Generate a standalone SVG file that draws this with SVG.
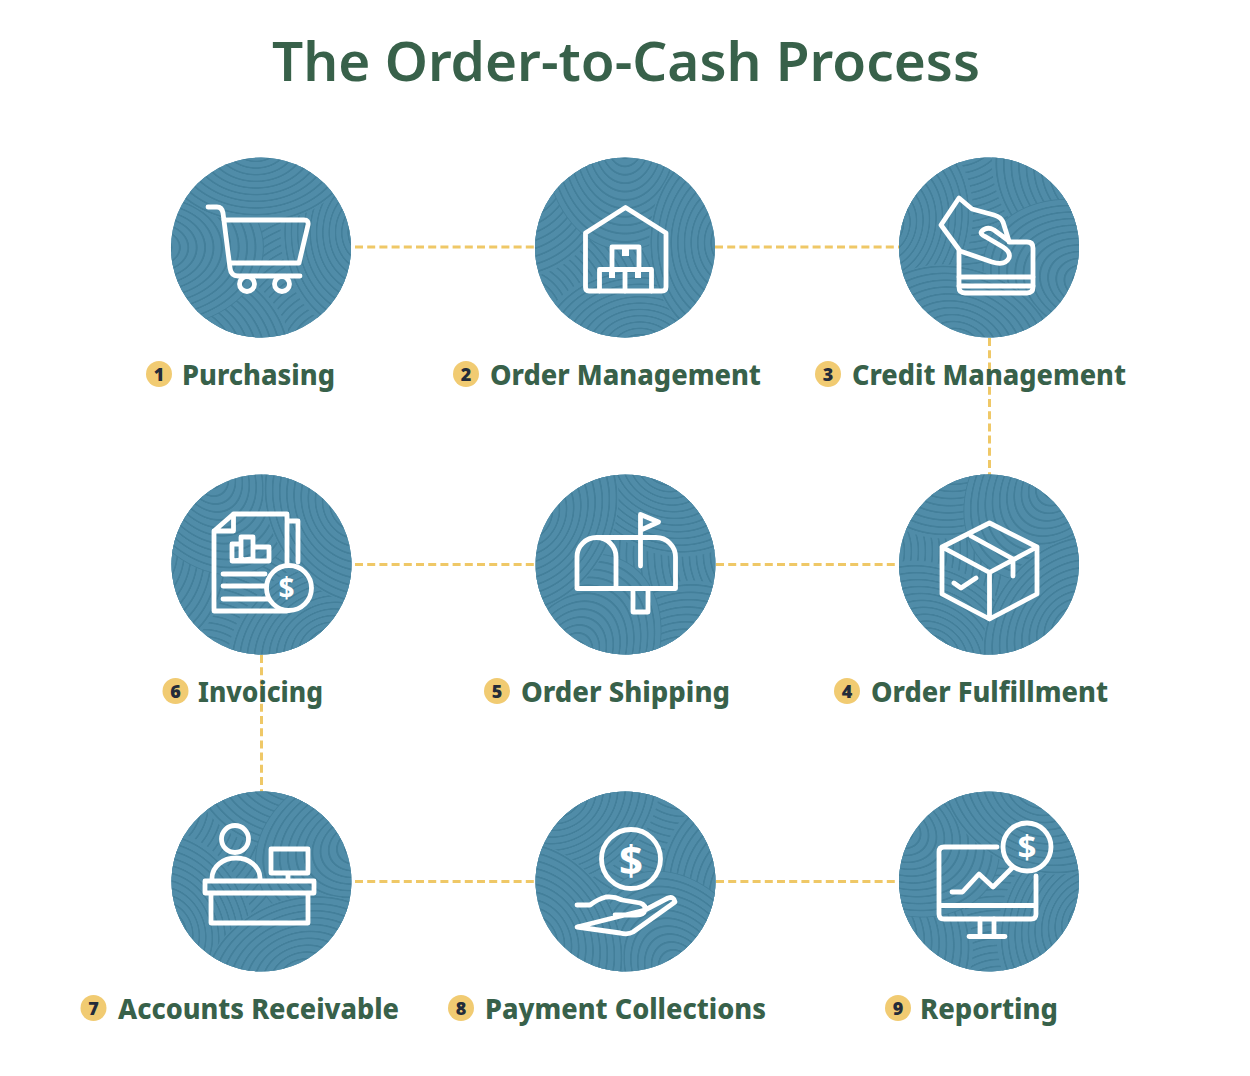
<svg xmlns="http://www.w3.org/2000/svg" xmlns:xlink="http://www.w3.org/1999/xlink" width="1250" height="1076" viewBox="0 0 1250 1076">
<style>
.title{font-family:"Noto Sans","Open Sans",sans-serif;font-weight:600;font-size:54px;fill:#38614a;text-anchor:middle}
.lbl{font-family:"Noto Sans","Open Sans",sans-serif;font-weight:800;font-size:29px;fill:#38614a}
.num{font-family:"Noto Sans","Open Sans",sans-serif;font-weight:900;font-size:18px;fill:#232c3a;text-anchor:middle}
.badge{fill:#f1cb72}
.ic{fill:none;stroke:#fff;stroke-width:4.8;stroke-linecap:round;stroke-linejoin:round}
.usd{font-family:"Noto Sans","Open Sans",sans-serif;font-weight:700;fill:#fff;text-anchor:middle}
.dash{fill:none;stroke:#efc867;stroke-width:3;stroke-dasharray:8 4.2}
.r{fill:url(#ring)}
</style>
<defs>
<radialGradient id="ring" gradientUnits="userSpaceOnUse" cx="0" cy="0" r="7" spreadMethod="repeat">
<stop offset="0" stop-color="#508ca8"/><stop offset=".66" stop-color="#508ca8"/><stop offset=".78" stop-color="#437f9a"/><stop offset=".92" stop-color="#437f9a"/><stop offset="1" stop-color="#508ca8"/>
</radialGradient>
<clipPath id="cc"><circle r="90"/></clipPath>
<g id="bg">
<circle r="90" fill="#508ca8"/>
<g clip-path="url(#cc)">
<circle class="r" r="150" transform="translate(75,110)"/>
<circle class="r" r="115" transform="translate(-95,110) scale(1.1,.9)"/>
<circle class="r" r="90" transform="translate(-105,0) scale(1.2,.9)"/>
<circle class="r" r="95" transform="translate(105,-15) scale(.9,1.1)"/>
<circle class="r" r="85" transform="translate(-5,-105) scale(1.2,.95)"/>
</g>
</g>
</defs>
<rect width="1250" height="1076" fill="#fff"/>
<g id="connectors">
<path class="dash" d="M355 247H535M715 247H899"/>
<path class="dash" d="M355 564.5H535M716 564.5H899"/>
<path class="dash" d="M355 881.5H535M716 881.5H899"/>
<path class="dash" d="M989.5 338V475"/>
<path class="dash" d="M261.5 655V792"/>
</g>
<text class="title" x="626" y="81" textLength="708" lengthAdjust="spacingAndGlyphs">The Order-to-Cash Process</text>

<g id="n1">
<use xlink:href="#bg" href="#bg" transform="translate(261,247.5) rotate(0)"/>
<path class="ic" d="M208 207H217Q222 207 223 213L230 268Q231 276 238 276H300"/>
<path class="ic" d="M224 220H304Q309 220 308 225L299 263H230"/>
<circle class="ic" cx="247" cy="284" r="7.5"/><circle class="ic" cx="282" cy="284" r="7.5"/>
<circle class="badge" cx="159" cy="374" r="13"/><text class="num" x="159" y="380.500">1</text>
<text class="lbl" x="182" y="385" textLength="153" lengthAdjust="spacingAndGlyphs">Purchasing</text>
</g>
<g id="n2">
<use xlink:href="#bg" href="#bg" transform="translate(625,247.500) rotate(90)"/>
<path class="ic" d="M585.500 233L625.500 207.500L666 233V287Q666 291 662 291H589Q585.500 291 585.500 287Z"/>
<path class="ic" d="M599.500 291V269.500H651.500V291M625 269.500V291M612 269.500V247H639V269.500"/>
<path d="M622 247H629V256H622ZM609 269.500H615V278H609ZM635 269.500H641V278H635Z" fill="#fff"/>
<circle class="badge" cx="466" cy="374" r="13"/><text class="num" x="466" y="380.500">2</text>
<text class="lbl" x="490" y="385" textLength="271" lengthAdjust="spacingAndGlyphs">Order Management</text>
</g>
<g id="n3">
<use xlink:href="#bg" href="#bg" transform="translate(989,247.500) rotate(200)"/>
<path class="ic" d="M1009 242H1027Q1033 242 1033 248V287Q1033 293 1027 293H965Q959 293 959 287V251"/>
<path class="ic" d="M959 277H1033M959 286H1033"/>
<path class="ic" d="M959 198L941 225L960 251L992 262Q1005 266 1009 258Q1011 252 1003 247L986 237Q979 234 982 231Q987 226 994 230L1009 241L1003 222Q1001 217 994 215L972 209Z"/>
<circle class="badge" cx="828" cy="374" r="13"/><text class="num" x="828" y="380.500">3</text>
<text class="lbl" x="852" y="385" textLength="274" lengthAdjust="spacingAndGlyphs">Credit Management</text>
</g>
<g id="n4">
<use xlink:href="#bg" href="#bg" transform="translate(989,564.500) rotate(130)"/>
<path class="ic" d="M989.500 523L1037 547V594L989.500 619L942 594V547ZM942 547L989.500 572.500L1037 547M989.500 572.500V619M971 536L1013 559V576M954 583L961 588L976 578"/>
<circle class="badge" cx="847" cy="691" r="13"/><text class="num" x="847" y="697.500">4</text>
<text class="lbl" x="871" y="702" textLength="237" lengthAdjust="spacingAndGlyphs">Order Fulfillment</text>
</g>
<g id="n5">
<use xlink:href="#bg" href="#bg" transform="translate(625.500,564.500) rotate(300)"/>
<path class="ic" d="M577 588.500V557A19.500 19.500 0 0 1 616 557V588.500M596.500 537.500H656A19.500 19.500 0 0 1 675.500 557V588.500H577"/>
<path class="ic" d="M633 589V612H648V589M640.500 566V514.500L658.500 522L641 530"/>
<circle class="badge" cx="497" cy="691" r="13"/><text class="num" x="497" y="697.500">5</text>
<text class="lbl" x="521" y="702" textLength="209" lengthAdjust="spacingAndGlyphs">Order Shipping</text>
</g>
<g id="n6">
<use xlink:href="#bg" href="#bg" transform="translate(261.500,564.500) rotate(60)"/>
<path class="ic" d="M287 565V514H233.500L214 531V611H287M233.500 514V531H214M288 521H298V562"/>
<path class="ic" d="M232 559V544H241V559M241 559V537H253V559M253 559V547H269V561H232Z"/>
<path class="ic" d="M223 574H265M223 586H265M223 599H268"/>
<circle class="ic" cx="289" cy="588" r="22.500"/>
<text class="usd" x="286.500" y="598" font-size="28">$</text>
<circle class="badge" cx="175.500" cy="691" r="13"/><text class="num" x="175.500" y="697.500">6</text>
<text class="lbl" x="198" y="702" textLength="125" lengthAdjust="spacingAndGlyphs">Invoicing</text>
</g>
<g id="n7">
<use xlink:href="#bg" href="#bg" transform="translate(261.500,881.500) rotate(160)"/>
<circle class="ic" cx="235" cy="839" r="13.500"/>
<path class="ic" d="M212 880V878A24 20 0 0 1 260 878V880"/>
<path class="ic" d="M205 881H314V893H205ZM211 893V923H308V893"/>
<path class="ic" d="M271 849H308V873H271ZM288 873V881"/>
<circle class="badge" cx="93.500" cy="1008" r="13"/><text class="num" x="93.500" y="1014.500">7</text>
<text class="lbl" x="118" y="1019" textLength="281" lengthAdjust="spacingAndGlyphs">Accounts Receivable</text>
</g>
<g id="n8">
<use xlink:href="#bg" href="#bg" transform="translate(625.500,881.500) rotate(240)"/>
<circle class="ic" cx="631" cy="859" r="29.500"/>
<text class="usd" x="631" y="875" font-size="42">$</text>
<path class="ic" d="M577 905H590Q598 899 606 897Q614 896 622 900L640 903Q646 905 645 910Q644 915 636 915H615M645 910L668 898Q674 896 675 902L633 932Q628 935 620 933L577 927Z"/>
<circle class="badge" cx="461" cy="1008" r="13"/><text class="num" x="461" y="1014.500">8</text>
<text class="lbl" x="485" y="1019" textLength="281" lengthAdjust="spacingAndGlyphs">Payment Collections</text>
</g>
<g id="n9">
<use xlink:href="#bg" href="#bg" transform="translate(989,881.500) rotate(30)"/>
<path class="ic" d="M997 847H944Q939 847 939 852V914Q939 919 944 919H1031Q1036 919 1036 914V876M939 905.500H1036"/>
<path class="ic" d="M980 919V936M994 919V936M969 936.500H1005"/>
<path class="ic" d="M952 892H962.500L979 874L993 887L1013 867"/>
<circle class="ic" cx="1027" cy="847" r="24"/>
<text class="usd" x="1027" y="859" font-size="33">$</text>
<circle class="badge" cx="898" cy="1008" r="13"/><text class="num" x="898" y="1014.500">9</text>
<text class="lbl" x="920" y="1019" textLength="138" lengthAdjust="spacingAndGlyphs">Reporting</text>
</g>
</svg>
